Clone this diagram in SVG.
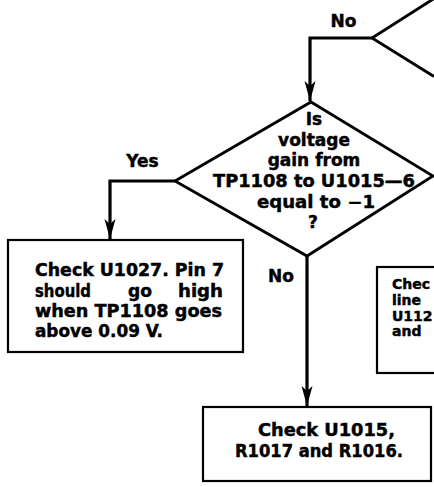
<svg xmlns="http://www.w3.org/2000/svg" width="434" height="487" viewBox="0 0 434 487">
<style>
text{font-family:"DejaVu Sans","Liberation Sans",sans-serif;font-weight:bold;font-size:17px;fill:#000;stroke:#000;stroke-width:0.45}
.c{text-anchor:middle}
.sm{font-size:14px}
.box{fill:none;stroke:#000;stroke-width:2.2}
.dia{fill:none;stroke:#000;stroke-width:2.8;stroke-linejoin:miter}
.con{fill:none;stroke:#000;stroke-width:3.2}
</style>
<defs>
<marker id="ah" markerUnits="userSpaceOnUse" markerWidth="22" markerHeight="14" refX="20" refY="7" orient="auto">
<path d="M0,1.5 L20,7 L0,12.5 L5,7 Z" fill="#000"/>
</marker>
</defs>
<rect width="434" height="487" fill="#fff"/>
<g id="decision-top">
<polyline class="dia" points="434,-1.5 372,38 434,76.5"/>
</g>
<g id="decision-gain">
<polygon class="dia" points="311,102 433,176 307,256 175,181"/>
<text class="c" x="314" y="125">Is</text>
<text class="c" x="314" y="145.5">voltage</text>
<text class="c" x="314" y="166">gain from</text>
<text x="213" y="187" textLength="202" lengthAdjust="spacingAndGlyphs">TP1108 to U1015—6</text>
<text x="257" y="207.5" textLength="118" lengthAdjust="spacingAndGlyphs">equal to −1</text>
<text class="c" x="313" y="228">?</text>
</g>
<g id="box-u1027">
<rect class="box" x="8" y="240" width="235" height="112"/>
<text x="35" y="276" textLength="189" lengthAdjust="spacingAndGlyphs">Check U1027. Pin 7</text>
<text x="35" y="296.5" textLength="56" lengthAdjust="spacingAndGlyphs">should</text>
<text x="128" y="296.5" textLength="24" lengthAdjust="spacingAndGlyphs">go</text>
<text x="178" y="296.5" textLength="45" lengthAdjust="spacingAndGlyphs">high</text>
<text x="35" y="317" textLength="187" lengthAdjust="spacingAndGlyphs">when TP1108 goes</text>
<text x="35" y="337" textLength="128" lengthAdjust="spacingAndGlyphs">above 0.09 V.</text>
</g>
<g id="box-right">
<rect class="box" x="377" y="267" width="70" height="106"/>
<text class="sm" x="392" y="289">Chec</text>
<text class="sm" x="392" y="305">line</text>
<text class="sm" x="392" y="320.5">U112</text>
<text class="sm" x="392" y="336">and</text>
</g>
<g id="box-u1015">
<rect class="box" x="203" y="407" width="228" height="74"/>
<text x="258" y="436" textLength="137" lengthAdjust="spacingAndGlyphs">Check U1015,</text>
<text x="235" y="457" textLength="168" lengthAdjust="spacingAndGlyphs">R1017 and R1016.</text>
</g>
<g id="connectors">
<path class="con" d="M372,38 H310 V101" marker-end="url(#ah)"/>
<path class="con" d="M175,181 H110 V239" marker-end="url(#ah)"/>
<path class="con" d="M307,256 V406" marker-end="url(#ah)"/>
<text class="c" x="343.5" y="27">No</text>
<text class="c" x="142.5" y="167">Yes</text>
<text class="c" x="281" y="282">No</text>
</g>
</svg>
